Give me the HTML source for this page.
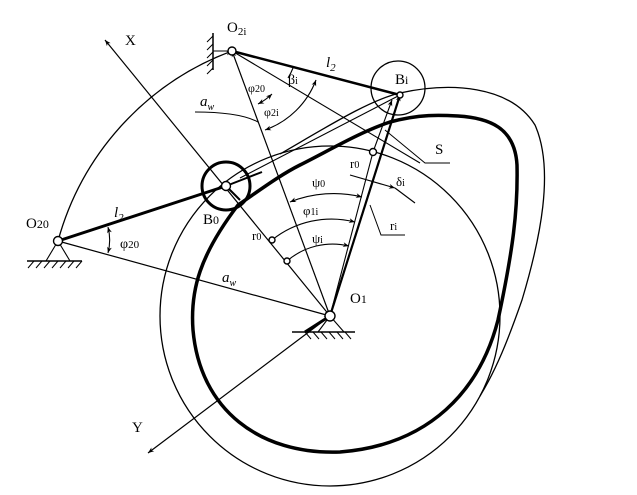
<!DOCTYPE html>
<html><head><meta charset="utf-8"><style>
html,body{margin:0;padding:0;background:#fff;}
svg{display:block;}
text{font-family:"Liberation Serif",serif;fill:#000;}
</style></head><body>
<svg width="637" height="495" viewBox="0 0 637 495" xmlns="http://www.w3.org/2000/svg">
<defs>
<marker id="ar" viewBox="0 0 10 10" refX="10" refY="5" markerWidth="9" markerHeight="6" orient="auto-start-reverse" markerUnits="userSpaceOnUse"><path d="M0,1 L10,5 L0,9 L3,5z" fill="#000"/></marker>
</defs>
<g fill="none" stroke="#000">
<!-- big arc O20 -> O2i centered O1 r=282 -->
<path d="M58,241 A282,282 0 0 1 232,51" stroke-width="1.3" marker-end="url(#ar)"/>
<!-- circle r170 -->
<circle cx="330" cy="316" r="170" stroke-width="1.3"/>
<!-- outer bulge -->
<path d="M280,154 C330,125 370,100 400,93 C450,82 510,85 535,125 C555,170 540,240 522,300 C508,340 496,370 480,396" stroke-width="1.3"/>
<!-- thick contour -->
<path d="M238,205 C260,190 280,175 300,165 C330,150 360,132 390,122 C420,114 440,115 458,116 C490,118 515,128 517,165 C518,210 513,250 498,320 C480,390 430,445 340,452 C260,455 200,410 193,330 C190,290 200,255 238,205 Z" stroke-width="3.5"/>
<!-- X axis -->
<line x1="330" y1="316" x2="105" y2="40" stroke-width="1.2" marker-end="url(#ar)"/>
<!-- Y axis -->
<line x1="330" y1="316" x2="148" y2="453" stroke-width="1.2" marker-end="url(#ar)"/>
<!-- l2 lines -->
<line x1="58" y1="241" x2="226" y2="186" stroke-width="3"/>
<line x1="226" y1="186" x2="262" y2="172" stroke-width="2"/>
<line x1="232" y1="51" x2="400" y2="95" stroke-width="2.5"/>
<!-- aw O20->O1 -->
<line x1="58" y1="241" x2="330" y2="316" stroke-width="1.2" marker-end="url(#ar)"/>
<!-- aw O1->O2i -->
<line x1="330" y1="316" x2="232" y2="51" stroke-width="1.2" marker-end="url(#ar)"/>
<!-- O2i to S region -->
<line x1="232" y1="51" x2="420" y2="163" stroke-width="1.1"/>
<!-- S leader -->
<polyline points="385,130 425,163 450,163" stroke-width="1"/>
<!-- B0 circle -->
<circle cx="226" cy="186" r="24" stroke-width="3"/>
<line x1="226" y1="186" x2="240" y2="200" stroke-width="2"/>
<!-- Bi circle -->
<circle cx="398" cy="88" r="27" stroke-width="1.3"/>
<!-- line from B0 region to Bi -->
<line x1="240" y1="178" x2="400" y2="95" stroke-width="1.1"/>
<!-- O1 to Bi -->
<line x1="330" y1="316" x2="400" y2="95" stroke-width="2.2" marker-end="url(#ar)"/>
<line x1="330" y1="316" x2="373" y2="152" stroke-width="1.1"/>
<line x1="373" y1="152" x2="392" y2="100" stroke-width="1.1" marker-end="url(#ar)"/>
<!-- psi0 arc -->
<path d="M362,197 A118,118 0 0 0 290,202" stroke-width="1.1" marker-end="url(#ar)" marker-start="url(#ar)"/>
<!-- phi1i arc -->
<path d="M272,240 A95,95 0 0 1 355,222" stroke-width="1.1" marker-end="url(#ar)"/>
<!-- psi i arc -->
<path d="M287,261 A70,70 0 0 1 349,246" stroke-width="1.1" marker-end="url(#ar)"/>
<!-- delta arrow -->
<line x1="350" y1="175" x2="395" y2="188" stroke-width="1.1" marker-end="url(#ar)"/>
<line x1="395" y1="188" x2="415" y2="203" stroke-width="1.1"/>
<!-- ri leader -->
<polyline points="370,205 381,235 405,235" stroke-width="1"/>
<!-- aw leader at top -->
<path d="M195,112 C225,112 245,115 258,122" stroke-width="1"/>
<!-- angle arcs at O2i -->
<path d="M258,104 A60,60 0 0 0 272,94" stroke-width="1.1" marker-start="url(#ar)" marker-end="url(#ar)"/>
<path d="M288,78 A65,65 0 0 0 293,68" stroke-width="1.1"/>
<path d="M265,130 A85,85 0 0 0 316,80" stroke-width="1.1" marker-start="url(#ar)" marker-end="url(#ar)"/>
<!-- phi20 arc at O20 -->
<path d="M108,227 A52,52 0 0 1 108,253" stroke-width="1.1" marker-start="url(#ar)" marker-end="url(#ar)"/>
<!-- grounds -->
<line x1="213" y1="33" x2="213" y2="70" stroke-width="1.5"/>
<path d="M213,36 l-6,6 M213,44 l-6,6 M213,52 l-6,6 M213,60 l-6,6 M213,68 l-6,6" stroke-width="1"/>
<line x1="213" y1="51" x2="232" y2="51" stroke-width="1"/>
<path d="M58,241 L46,261 M58,241 L70,261" stroke-width="1.1"/>
<line x1="27" y1="261" x2="82" y2="261" stroke-width="1.6"/>
<path d="M34,261 l-6,7 M42,261 l-6,7 M50,261 l-6,7 M58,261 l-6,7 M66,261 l-6,7 M74,261 l-6,7 M82,261 l-6,7" stroke-width="1"/>
<path d="M330,316 L318,332 M330,316 L344,332" stroke-width="1.1"/>
<line x1="292" y1="332" x2="355" y2="332" stroke-width="1.6"/>
<line x1="330" y1="316" x2="305" y2="332" stroke-width="3"/>
<path d="M305,332 l6,7 M313,332 l6,7 M321,332 l6,7 M329,332 l6,7 M337,332 l6,7 M345,332 l6,7" stroke-width="1"/>
</g>
<!-- pivots -->
<g fill="#fff" stroke="#000" stroke-width="1.4">
<circle cx="232" cy="51" r="4"/>
<circle cx="58" cy="241" r="4.5"/>
<circle cx="330" cy="316" r="5"/>
<circle cx="226" cy="186" r="4.5"/>
<circle cx="400" cy="95" r="3"/>
<circle cx="373" cy="152" r="3.5"/>
<circle cx="272" cy="240" r="3"/>
<circle cx="287" cy="261" r="3"/>
</g>
<g font-size="15">
<text x="125" y="45">X</text>
<text x="132" y="432" font-family="Liberation Sans,sans-serif">Y</text>
<text x="227" y="32">O<tspan font-size="11" dy="3">2i</tspan></text>
<text x="26" y="228">O<tspan font-size="12">20</tspan></text>
<text x="350" y="303" font-family="Liberation Sans,sans-serif">O<tspan font-size="12">1</tspan></text>
<text x="203" y="224">B<tspan font-size="12">0</tspan></text>
<text x="395" y="84">B<tspan font-size="12">i</tspan></text>
<text x="114" y="217" font-style="italic">l<tspan font-size="11" dy="4">2</tspan></text>
<text x="326" y="67" font-style="italic">l<tspan font-size="11" dy="4">2</tspan></text>
<text x="200" y="106" font-style="italic">a<tspan font-size="10" dy="4">w</tspan></text>
<text x="222" y="282" font-style="italic">a<tspan font-size="10" dy="4">w</tspan></text>
<text x="435" y="154">S</text>
<text x="120" y="248" font-size="14">φ<tspan font-size="11">20</tspan></text>
<text x="248" y="92" font-size="12">φ<tspan font-size="10">20</tspan></text>
<text x="264" y="116" font-size="12">φ<tspan font-size="10">2i</tspan></text>
<text x="288" y="84" font-size="14">β<tspan font-size="10">i</tspan></text>
<text x="350" y="168" font-size="13">r<tspan font-size="10">0</tspan></text>
<text x="252" y="240" font-size="13">r<tspan font-size="10">0</tspan></text>
<text x="312" y="187" font-size="13">ψ<tspan font-size="10">0</tspan></text>
<text x="303" y="215" font-size="13">φ<tspan font-size="10">1i</tspan></text>
<text x="312" y="243" font-size="13">ψ<tspan font-size="10">i</tspan></text>
<text x="396" y="186" font-size="13">δ<tspan font-size="10">i</tspan></text>
<text x="390" y="230" font-size="13">r<tspan font-size="10">i</tspan></text>
</g>
</svg>
</body></html>
